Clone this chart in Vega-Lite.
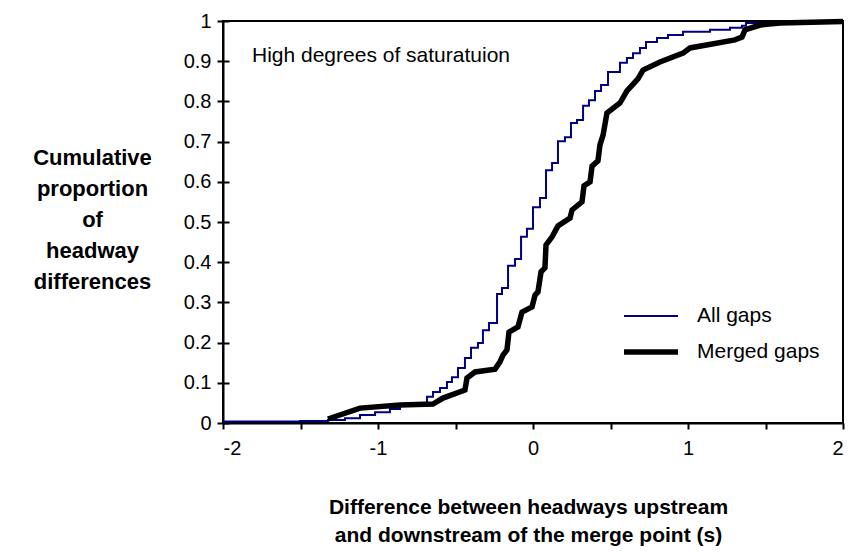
{
  "$schema": "https://vega.github.io/schema/vega-lite/v6.json",
  "width": 620,
  "height": 402,
  "autosize": {"type": "none"},
  "padding": {"left": 223, "top": 21, "right": 8, "bottom": 129},
  "background": "white",
  "config": {
    "font": "Liberation Sans",
    "view": {"stroke": "black", "strokeWidth": 2},
    "axis": {
      "grid": false,
      "domainColor": "black",
      "domainWidth": 2,
      "tickColor": "black",
      "tickWidth": 2,
      "tickSize": 6,
      "labelColor": "black",
      "labelFont": "Liberation Sans",
      "labelFontSize": 20,
      "titleFont": "Liberation Sans",
      "titleColor": "black"
    },
    "legend": {"labelFont": "Liberation Sans", "labelFontSize": 21, "labelColor": "black"}
  },
  "resolve": {"axis": {"y": "independent"}},
  "data": {
    "values": [
      {"series": "note", "label": "High degrees of saturatuion"},
      {"series": "All gaps", "x": -2.0, "y": 0.004},
      {"series": "All gaps", "x": -1.503, "y": 0.005},
      {"series": "All gaps", "x": -1.323, "y": 0.0075},
      {"series": "All gaps", "x": -1.213, "y": 0.012},
      {"series": "All gaps", "x": -1.116, "y": 0.02},
      {"series": "All gaps", "x": -1.019, "y": 0.027},
      {"series": "All gaps", "x": -0.923, "y": 0.035},
      {"series": "All gaps", "x": -0.858, "y": 0.047},
      {"series": "All gaps", "x": -0.684, "y": 0.065},
      {"series": "All gaps", "x": -0.645, "y": 0.077},
      {"series": "All gaps", "x": -0.6, "y": 0.087},
      {"series": "All gaps", "x": -0.555, "y": 0.102},
      {"series": "All gaps", "x": -0.523, "y": 0.114},
      {"series": "All gaps", "x": -0.484, "y": 0.137},
      {"series": "All gaps", "x": -0.439, "y": 0.162},
      {"series": "All gaps", "x": -0.4, "y": 0.187},
      {"series": "All gaps", "x": -0.355, "y": 0.199},
      {"series": "All gaps", "x": -0.323, "y": 0.231},
      {"series": "All gaps", "x": -0.284, "y": 0.249},
      {"series": "All gaps", "x": -0.232, "y": 0.321},
      {"series": "All gaps", "x": -0.2, "y": 0.336},
      {"series": "All gaps", "x": -0.161, "y": 0.391},
      {"series": "All gaps", "x": -0.116, "y": 0.408},
      {"series": "All gaps", "x": -0.077, "y": 0.463},
      {"series": "All gaps", "x": -0.039, "y": 0.483},
      {"series": "All gaps", "x": 0.0, "y": 0.537},
      {"series": "All gaps", "x": 0.045, "y": 0.56},
      {"series": "All gaps", "x": 0.084, "y": 0.629},
      {"series": "All gaps", "x": 0.123, "y": 0.647},
      {"series": "All gaps", "x": 0.161, "y": 0.701},
      {"series": "All gaps", "x": 0.206, "y": 0.711},
      {"series": "All gaps", "x": 0.245, "y": 0.746},
      {"series": "All gaps", "x": 0.284, "y": 0.754},
      {"series": "All gaps", "x": 0.323, "y": 0.789},
      {"series": "All gaps", "x": 0.361, "y": 0.803},
      {"series": "All gaps", "x": 0.4, "y": 0.826},
      {"series": "All gaps", "x": 0.439, "y": 0.841},
      {"series": "All gaps", "x": 0.484, "y": 0.873},
      {"series": "All gaps", "x": 0.561, "y": 0.896},
      {"series": "All gaps", "x": 0.606, "y": 0.908},
      {"series": "All gaps", "x": 0.645, "y": 0.92},
      {"series": "All gaps", "x": 0.69, "y": 0.933},
      {"series": "All gaps", "x": 0.729, "y": 0.948},
      {"series": "All gaps", "x": 0.8, "y": 0.958},
      {"series": "All gaps", "x": 0.871, "y": 0.965},
      {"series": "All gaps", "x": 0.968, "y": 0.973},
      {"series": "All gaps", "x": 1.142, "y": 0.978},
      {"series": "All gaps", "x": 1.271, "y": 0.983},
      {"series": "All gaps", "x": 1.348, "y": 0.988},
      {"series": "All gaps", "x": 1.374, "y": 0.995},
      {"series": "All gaps", "x": 1.723, "y": 0.9975},
      {"series": "All gaps", "x": 2.0, "y": 1.0},
      {"series": "Merged gaps", "x": -1.323, "y": 0.01},
      {"series": "Merged gaps", "x": -1.116, "y": 0.037},
      {"series": "Merged gaps", "x": -0.858, "y": 0.045},
      {"series": "Merged gaps", "x": -0.645, "y": 0.047},
      {"series": "Merged gaps", "x": -0.581, "y": 0.062},
      {"series": "Merged gaps", "x": -0.439, "y": 0.082},
      {"series": "Merged gaps", "x": -0.426, "y": 0.112},
      {"series": "Merged gaps", "x": -0.374, "y": 0.127},
      {"series": "Merged gaps", "x": -0.245, "y": 0.134},
      {"series": "Merged gaps", "x": -0.213, "y": 0.152},
      {"series": "Merged gaps", "x": -0.194, "y": 0.169},
      {"series": "Merged gaps", "x": -0.168, "y": 0.182},
      {"series": "Merged gaps", "x": -0.155, "y": 0.226},
      {"series": "Merged gaps", "x": -0.097, "y": 0.239},
      {"series": "Merged gaps", "x": -0.071, "y": 0.276},
      {"series": "Merged gaps", "x": -0.006, "y": 0.289},
      {"series": "Merged gaps", "x": 0.013, "y": 0.318},
      {"series": "Merged gaps", "x": 0.032, "y": 0.326},
      {"series": "Merged gaps", "x": 0.052, "y": 0.376},
      {"series": "Merged gaps", "x": 0.077, "y": 0.386},
      {"series": "Merged gaps", "x": 0.084, "y": 0.443},
      {"series": "Merged gaps", "x": 0.123, "y": 0.463},
      {"series": "Merged gaps", "x": 0.161, "y": 0.49},
      {"series": "Merged gaps", "x": 0.239, "y": 0.51},
      {"series": "Merged gaps", "x": 0.252, "y": 0.53},
      {"series": "Merged gaps", "x": 0.316, "y": 0.55},
      {"series": "Merged gaps", "x": 0.329, "y": 0.59},
      {"series": "Merged gaps", "x": 0.368, "y": 0.6},
      {"series": "Merged gaps", "x": 0.381, "y": 0.639},
      {"series": "Merged gaps", "x": 0.419, "y": 0.652},
      {"series": "Merged gaps", "x": 0.432, "y": 0.692},
      {"series": "Merged gaps", "x": 0.452, "y": 0.716},
      {"series": "Merged gaps", "x": 0.477, "y": 0.771},
      {"series": "Merged gaps", "x": 0.561, "y": 0.796},
      {"series": "Merged gaps", "x": 0.606, "y": 0.826},
      {"series": "Merged gaps", "x": 0.677, "y": 0.856},
      {"series": "Merged gaps", "x": 0.71, "y": 0.878},
      {"series": "Merged gaps", "x": 0.819, "y": 0.898},
      {"series": "Merged gaps", "x": 0.968, "y": 0.92},
      {"series": "Merged gaps", "x": 1.013, "y": 0.933},
      {"series": "Merged gaps", "x": 1.303, "y": 0.953},
      {"series": "Merged gaps", "x": 1.348, "y": 0.96},
      {"series": "Merged gaps", "x": 1.368, "y": 0.978},
      {"series": "Merged gaps", "x": 1.465, "y": 0.99},
      {"series": "Merged gaps", "x": 1.594, "y": 0.995},
      {"series": "Merged gaps", "x": 2.0, "y": 0.999}
    ]
  },
  "layer": [
    {
      "transform": [{"filter": "datum.series === 'All gaps'"}],
      "mark": {"type": "line", "interpolate": "step-after"},
      "encoding": {
        "x": {
          "field": "x",
          "type": "quantitative",
          "scale": {"domain": [-2, 2], "nice": false, "zero": false},
          "axis": {
            "values": [-2, -1.5, -1, -0.5, 0, 0.5, 1, 1.5, 2],
            "labelExpr": "datum.value % 1 === 0 ? '' + datum.value : ''",
            "labelPadding": 9,
            "title": ["Difference between headways upstream", "and downstream of the merge point (s)"],
            "titleFontSize": 21,
            "titleFontWeight": "bold",
            "titleLineHeight": 28,
            "titleX": 305,
            "titleY": 84,
            "titleAlign": "center",
            "titleBaseline": "middle"
          }
        },
        "y": {
          "field": "y",
          "type": "quantitative",
          "scale": {"domain": [0, 1], "nice": false},
          "axis": {
            "orient": "left",
            "values": [0, 0.1, 0.2, 0.3, 0.4, 0.5, 0.6, 0.7, 0.8, 0.9, 1],
            "labelExpr": "'' + datum.value",
            "labelPadding": 6,
            "title": ["Cumulative", "proportion", "of", "headway", "differences"],
            "titleFontSize": 22,
            "titleFontWeight": "bold",
            "titleLineHeight": 31,
            "titleAngle": 0,
            "titleX": -131,
            "titleY": 136,
            "titleAlign": "center",
            "titleBaseline": "middle"
          }
        },
        "color": {
          "field": "series",
          "type": "nominal",
          "scale": {"domain": ["All gaps", "Merged gaps"], "range": ["#000080", "#000000"]},
          "legend": {
            "title": null,
            "orient": "none",
            "legendX": 398,
            "legendY": 285,
            "symbolType": "stroke",
            "symbolSize": 2916,
            "clipHeight": 20,
            "rowPadding": 15,
            "labelOffset": 16,
            "padding": 0
          }
        },
        "strokeWidth": {
          "field": "series",
          "type": "nominal",
          "scale": {"domain": ["All gaps", "Merged gaps"], "range": [2, 5.5]},
          "legend": {
            "title": null,
            "orient": "none",
            "legendX": 398,
            "legendY": 285,
            "symbolType": "stroke",
            "symbolSize": 2916,
            "clipHeight": 20,
            "rowPadding": 15,
            "labelOffset": 16,
            "padding": 0
          }
        }
      }
    },
    {
      "transform": [{"filter": "datum.series === 'Merged gaps'"}],
      "mark": {"type": "line", "interpolate": "linear"},
      "encoding": {
        "x": {"field": "x", "type": "quantitative"},
        "color": {"field": "series", "type": "nominal"},
        "strokeWidth": {"field": "series", "type": "nominal"},
        "y": {
          "field": "y",
          "type": "quantitative",
          "axis": {
            "orient": "right",
            "offset": -620,
            "values": [0, 0.1, 0.2, 0.3, 0.4, 0.5, 0.6, 0.7, 0.8, 0.9, 1],
            "labels": false,
            "domain": false,
            "title": null,
            "tickSize": 6
          }
        }
      }
    },
    {
      "transform": [{"filter": "datum.series === 'note'"}],
      "mark": {"type": "text", "align": "left", "baseline": "middle", "fontSize": 21, "font": "Liberation Sans", "color": "black"},
      "encoding": {
        "x": {"datum": -1.813, "type": "quantitative"},
        "y": {"datum": 0.913, "type": "quantitative", "axis": null},
        "text": {"field": "label", "type": "nominal"}
      }
    }
  ]
}
